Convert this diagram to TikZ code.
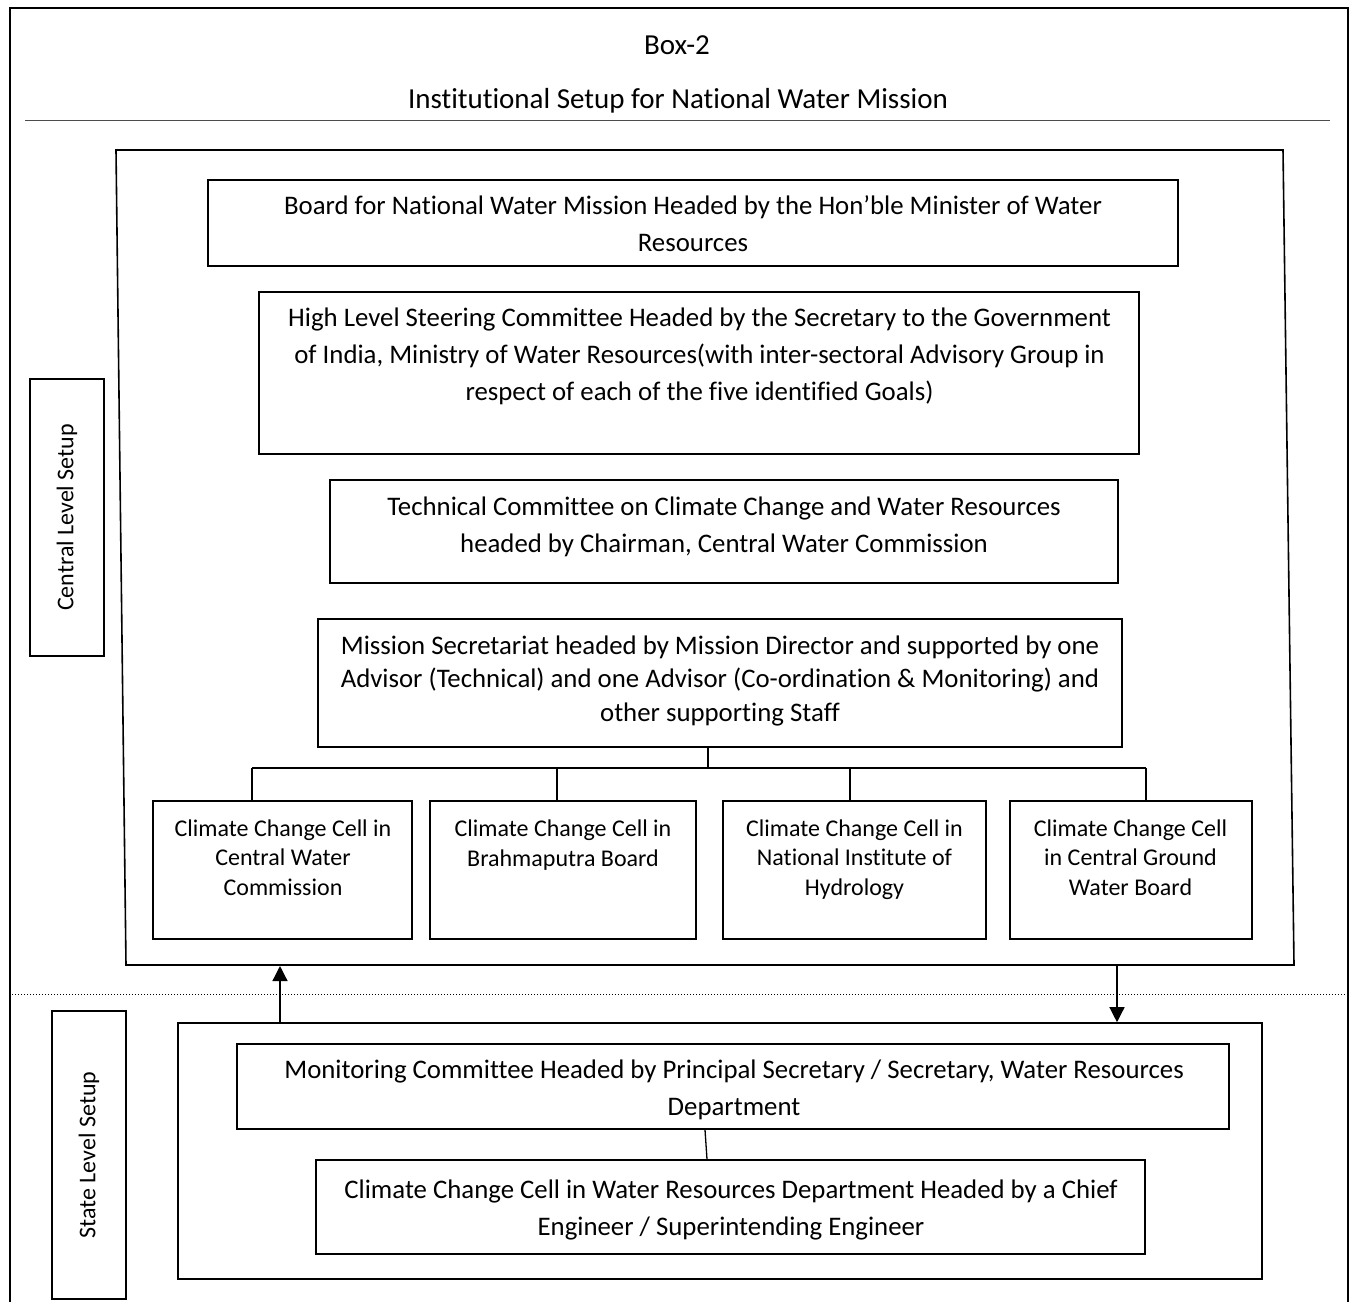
\documentclass[tikz,border=0pt]{standalone}
\usepackage{fontspec}
\setmainfont{Carlito}[Ligatures=NoCommon]
\usetikzlibrary{arrows.meta,calc}
\begin{document}
\begin{tikzpicture}[x=1pt,y=-1pt,
  box/.style={draw,line width=1.6pt,inner sep=0pt},
  ttltxt/.style={align=center,inner sep=0pt,font=\fontsize{29}{37}\selectfont},
  txt/.style={align=center,inner sep=0pt,font=\fontsize{26.8}{37}\selectfont},
  midtxt/.style={align=center,inner sep=0pt,font=\fontsize{26.8}{33.5}\selectfont},
  celltxt/.style={align=center,inner sep=0pt,font=\fontsize{24}{29.5}\selectfont},
  sidetxt/.style={rotate=90,inner sep=0pt,font=\fontsize{24}{29.5}\selectfont},
  conn/.style={line width=1.3pt},
  arr/.style={line width=1.3pt,-{Triangle[width=15pt,length=15pt]}}]
\useasboundingbox (0,0) rectangle (1351,1302);

% outer frame (open at bottom)
\draw[line width=1.6pt] (10,1302) -- (10,8) -- (1348,8) -- (1348,1302);
\node[ttltxt] (boxtitle) at (677,45) {Box-2};
\node[ttltxt] (title) at (678,101) {Institutional Setup for National Water Mission};
\draw[line width=0.9pt,black!70] (25,120) -- (1330,120);
\draw[dotted,line width=1pt] (12,994) -- (1347,994);

% central frame (slightly skewed)
\coordinate (cTL) at (116,150);
\coordinate (cTR) at (1283,150);
\coordinate (cBR) at (1294,965);
\coordinate (cBL) at (126,965);
\draw[line width=1.6pt] (cTL) -- (cTR) -- (cBR) -- (cBL) -- cycle;

% side labels
\node[box,minimum width=74pt,minimum height=277pt] (centrallbl) at (67,517.5) {};
\node[sidetxt] (centraltxt) at (centrallbl.center) {Central Level Setup};
\node[box,minimum width=74pt,minimum height=288pt] (statelbl) at (89,1155) {};
\node[sidetxt] (statetxt) at (statelbl.center) {State Level Setup};

% central boxes
\node[box,minimum width=970pt,minimum height=86pt] (board) at (693,223) {};
\node[txt] (boardtxt) at (693,224) {Board for National Water Mission Headed by the Hon’ble Minister of Water\\Resources};

\node[box,minimum width=880pt,minimum height=162pt] (hlsc) at (699,373) {};
\node[txt] (hlsctxt) at (699.5,356) {High Level Steering Committee Headed by the Secretary to the Government\\of India, Ministry of Water Resources(with inter-sectoral Advisory Group in\\respect of each of the five identified Goals)};

\node[box,minimum width=788pt,minimum height=103pt] (tech) at (724,531.5) {};
\node[txt] (techtxt) at (724,526.5) {Technical Committee on Climate Change and Water Resources\\headed by Chairman, Central Water Commission};

\node[box,minimum width=804pt,minimum height=128pt] (mission) at (720,683) {};
\node[midtxt] (missiontxt) at (720,680.5) {Mission Secretariat headed by Mission Director and supported by one\\Advisor (Technical) and one Advisor (Co-ordination \& Monitoring) and\\other supporting Staff};

\node[box,minimum width=259pt,minimum height=138pt] (cell1) at (282.5,870) {};
\node[box,minimum width=266pt,minimum height=138pt] (cell2) at (563,870) {};
\node[box,minimum width=263pt,minimum height=138pt] (cell3) at (854.5,870) {};
\node[box,minimum width=242pt,minimum height=138pt] (cell4) at (1131,870) {};
\node[celltxt] (cell1txt) at (283,857.5) {Climate Change Cell in\\Central Water\\Commission};
\node[celltxt] (cell2txt) at (563,845) {Climate Change Cell in\\Brahmaputra Board};
\node[celltxt] (cell3txt) at (854.5,859.5) {Climate Change Cell in\\National Institute of\\Hydrology};
\node[celltxt] (cell4txt) at (1130.5,857.5) {Climate Change Cell\\in Central Ground\\Water Board};

% branch connectors
\coordinate (bus) at (708,768);
\draw[conn] ($(mission.south)+(-12,0)$) -- (bus);
\draw[conn] (252,768) -- (1146,768);
\draw[conn] (252,768) -- ($(cell1.north)+(-30.5,0)$);
\draw[conn] (557,768) -- ($(cell2.north)+(-6,0)$);
\draw[conn] (850,768) -- ($(cell3.north)+(-4.5,0)$);
\draw[conn] (1146,768) -- ($(cell4.north)+(15,0)$);

% state level
\node[box,minimum width=1084pt,minimum height=256pt] (state) at (720,1151) {};
\node[box,minimum width=992pt,minimum height=85pt] (monitor) at (733,1086.5) {};
\node[txt] (monitortxt) at (734,1089.5) {Monitoring Committee Headed by Principal Secretary / Secretary, Water Resources\\Department};
\node[box,minimum width=829pt,minimum height=94pt] (cccw) at (730.5,1207) {};
\node[txt] (cccwtxt) at (731,1209.5) {Climate Change Cell in Water Resources Department Headed by a Chief\\Engineer / Superintending Engineer};
\draw[conn] ($(monitor.south)+(-28,0)$) -- ($(cccw.north)+(-23.5,0)$);

% arrows between levels
\coordinate (upTop) at (280,966);
\coordinate (downTop) at (1117,966);
\draw[arr] ($(state.north)+(-440,0)$) -- (upTop);
\draw[arr] (downTop) -- ($(state.north)+(397,0)$);
\end{tikzpicture}
\end{document}
